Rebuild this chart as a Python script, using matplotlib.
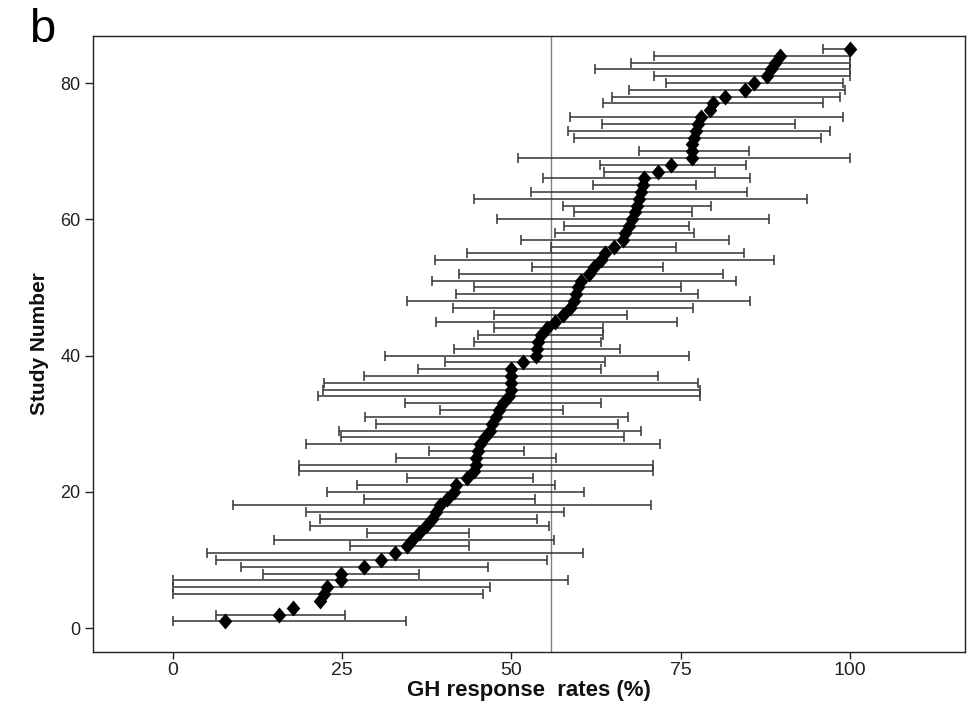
import numpy as np
import matplotlib
matplotlib.use("Agg")
import matplotlib.pyplot as plt

plt.rcParams['font.family'] = ['Liberation Sans', 'DejaVu Sans']

# GH response rate per study (%), with 95% CI; NaN where no interval given
study = np.arange(1, 86)
rate = [7.7, 15.6, 17.7, 21.8, 22.3, 22.8, 24.8, 24.8, 28.2, 30.7,
        32.8, 34.6, 35.3, 36.3, 37.4, 38.2, 38.9, 39.5, 40.5, 41.5,
        41.8, 43.5, 44.5, 44.8, 44.8, 45.1, 45.4, 46.1, 46.8, 47.1,
        47.7, 48.1, 48.7, 49.7, 50.0, 49.9, 49.9, 50.0, 51.7, 53.6,
        53.8, 54.0, 54.3, 55.3, 56.5, 57.6, 58.6, 59.2, 59.6, 59.8,
        60.3, 61.5, 62.2, 63.3, 63.8, 65.1, 66.5, 66.8, 67.4, 67.8,
        68.2, 68.5, 68.8, 69.1, 69.4, 69.6, 71.7, 73.5, 76.6, 76.6,
        76.7, 77.0, 77.3, 77.6, 78.0, 79.3, 79.8, 81.5, 84.5, 85.8,
        87.8, 88.4, 89.0, 89.7, 100.0]
ci_low = [0.0, 6.4, np.nan, np.nan, 0.0, 0.0, 0.0, 13.3, 10.0, 6.4,
          5.1, 26.1, 14.9, 28.6, 20.2, 21.7, 19.7, 8.9, 28.2, 22.7,
          27.2, 34.6, 18.6, 18.6, 33.0, 37.8, 19.7, 24.9, 24.6, 30.0,
          28.4, 39.5, 34.3, 21.5, 22.1, 22.3, 28.2, 36.2, 40.2, 31.3,
          41.5, 44.5, 45.1, 47.5, 38.9, 47.5, 41.4, 34.6, 41.8, 44.5,
          38.2, 42.2, 53.0, 38.7, 43.4, 55.9, 51.4, 56.5, 57.8, 47.9,
          59.3, 57.6, 44.4, 52.9, 62.0, 54.6, 63.7, 63.1, 50.9, 68.8,
          np.nan, 59.2, 58.3, 63.4, 58.6, np.nan, 63.6, 64.8, 67.3, 72.9,
          71.1, 62.4, 67.6, 71.1, 96.0]
ci_high = [34.5, 25.4, np.nan, np.nan, 45.8, 46.8, 58.3, 36.4, 46.6, 55.3,
           60.5, 43.7, 56.3, 43.7, 55.6, 53.8, 57.8, 70.6, 53.5, 60.7,
           56.4, 53.2, 70.9, 70.9, 56.6, 51.9, 72.0, 66.7, 69.2, 65.7,
           67.2, 57.6, 63.2, 77.9, 77.8, 77.6, 71.6, 63.2, 63.8, 76.2,
           66.1, 63.2, 63.5, 63.6, 74.5, 67.1, 76.8, 85.2, 77.6, 75.0,
           83.2, 81.2, 72.4, 88.8, 84.4, 74.3, 82.1, 77.0, 76.2, 88.0,
           76.6, 79.5, 93.6, 84.8, 77.3, 85.3, 80.0, 84.6, 100.0, 85.1,
           np.nan, 95.7, 97.1, 91.9, 99.0, np.nan, 96.0, 98.6, 99.2, 99.0,
           100.0, 100.0, 100.0, 100.0, 100.0]
pooled_rate = 55.8
xticks = [0, 25, 50, 75, 100]
yticks = [0, 20, 40, 60, 80]

rate = np.array(rate)
lo = np.array(ci_low)
hi = np.array(ci_high)
has_ci = ~np.isnan(lo)

fig = plt.figure(figsize=(9.73, 7.07), dpi=100)
ax = fig.add_axes([0.0956, 0.0778, 0.8962, 0.8713])

# confidence intervals
ax.errorbar(rate[has_ci], study[has_ci],
            xerr=[rate[has_ci] - lo[has_ci], hi[has_ci] - rate[has_ci]],
            fmt='none', ecolor='#333333', elinewidth=1.1, capsize=3.5,
            capthick=1.1, zorder=2)

# pooled response rate
ax.axvline(pooled_rate, color='#808080', linewidth=1.0, zorder=1)

# study estimates (filled diamonds, a bit taller than wide)
diamond = [(0, 1), (0.85, 0), (0, -1), (-0.85, 0), (0, 1)]
ax.plot(rate, study, linestyle='none', marker=diamond, markersize=11.5,
        color='black', markeredgewidth=0, zorder=3)

ax.set_xlim(-11.8, 117.0)
ax.set_ylim(-3.5, 86.9)
ax.set_xticks(xticks)
ax.set_yticks(yticks)
ax.tick_params(axis='x', length=5, width=1, colors='#222222', labelsize=14, pad=2)
ax.tick_params(axis='y', length=6, width=1, colors='#222222', labelsize=13, pad=3)
for s in ax.spines.values():
    s.set_linewidth(1.0)
    s.set_color('#222222')

ax.set_xlabel('GH response  rates (%)', fontsize=16, fontweight='bold',
              color='#111111', labelpad=1)
ax.set_ylabel('Study Number', fontsize=15, fontweight='bold',
              color='#111111', labelpad=8)

fig.text(0.03, 0.94, 'b', fontsize=34, color='black')

fig.savefig('out.png', dpi=100)
